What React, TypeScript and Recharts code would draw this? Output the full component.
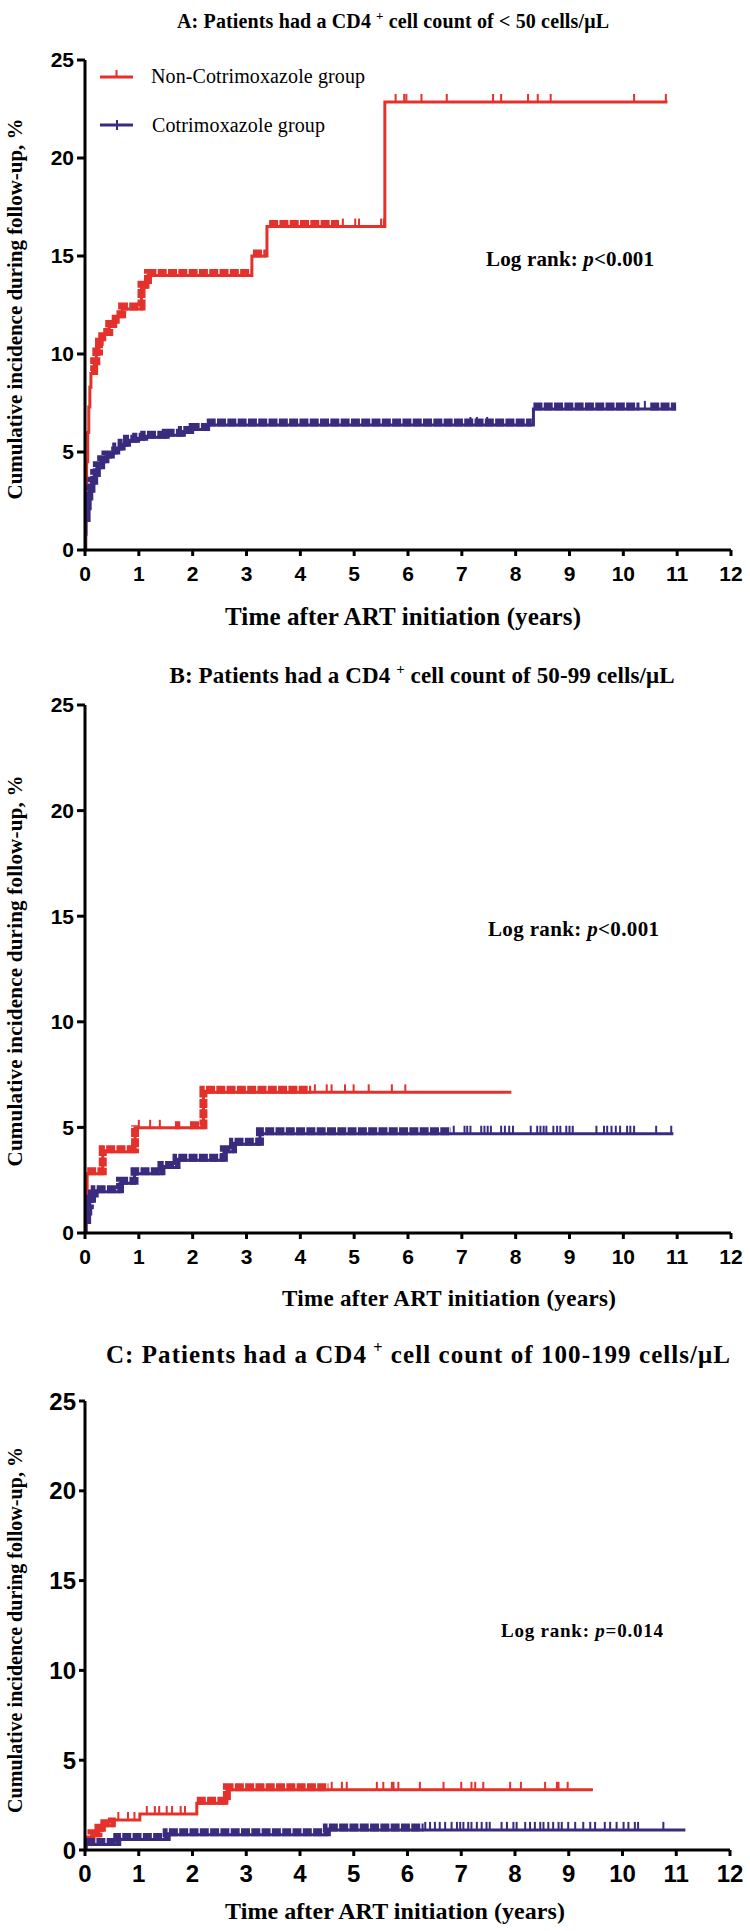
import React from 'react';
import { ComposedChart, Line, Scatter, XAxis, YAxis } from 'recharts';

type Pt = [number, number];
type Iv = [number, number];

const RED = '#E4312B';
const BLUE = '#3B2B7F';

const yearTicks = [0, 1, 2, 3, 4, 5, 6, 7, 8, 9, 10, 11, 12];
const pctTicks = [0, 5, 10, 15, 20, 25];

const seriesNames = ['Non-Cotrimoxazole group', 'Cotrimoxazole group'];
const yTitle = 'Cumulative incidence during follow-up, %';
const xTitle = 'Time after ART initiation (years)';

// ---------- Panel A: CD4 < 50 ----------
const aNonCurve: Pt[] = [
  [0, 0], [0.015, 2.5], [0.03, 4.5], [0.05, 6], [0.07, 7.3], [0.09, 8.3], [0.11, 9], [0.17, 9.5],
  [0.21, 10], [0.26, 10.5], [0.32, 11], [0.45, 11.4], [0.57, 11.9], [0.69, 12.3], [1.05, 13.4],
  [1.17, 14], [3.1, 15], [3.38, 16.5], [5.57, 22.86], [10.82, 22.86],
];
const aNonBands: Iv[] = [[0.11, 3.08], [3.12, 3.36], [3.42, 4.72]];
const aNonCens = [4.79, 5.02, 5.09, 5.5, 5.55, 5.77, 5.93, 5.97, 6.25, 6.72, 7.58, 7.73, 8.23, 8.41, 8.65, 10.2, 10.79];

const aCtxCurve: Pt[] = [
  [0, 0], [0.01, 0.8], [0.02, 1.5], [0.03, 2.1], [0.05, 2.6], [0.08, 3.0], [0.12, 3.4], [0.17, 3.8],
  [0.22, 4.2], [0.3, 4.5], [0.38, 4.75], [0.48, 4.95], [0.58, 5.15], [0.68, 5.35], [0.78, 5.55],
  [0.95, 5.65], [1.1, 5.75], [1.5, 5.85], [1.8, 6.0], [2.0, 6.15], [2.25, 6.38], [8.33, 7.2], [10.98, 7.2],
];
const aCtxBands: Iv[] = [[0.02, 8.3], [8.33, 10.3], [10.5, 10.98]];
const aCtxCens = [7.16, 7.28, 7.47, 10.4];

// ---------- Panel B: CD4 50-99 ----------
const bNonCurve: Pt[] = [
  [0, 0], [0.02, 1.5], [0.04, 2.8], [0.33, 3.85], [0.93, 4.98], [2.2, 6.66], [7.92, 6.66],
];
const bNonBands: Iv[] = [[0.04, 0.93], [1.67, 1.77], [1.95, 4.2]];
const bNonCens = [1.0, 1.21, 1.39, 4.27, 4.49, 4.58, 4.83, 4.99, 5.27, 5.7, 5.95];

const bCtxCurve: Pt[] = [
  [0, 0], [0.02, 0.5], [0.04, 0.9], [0.06, 1.2], [0.09, 1.5], [0.13, 1.75], [0.18, 1.95], [0.65, 2.35],
  [0.92, 2.8], [1.42, 3.1], [1.7, 3.45], [2.58, 3.85], [2.75, 4.2], [3.25, 4.7], [10.93, 4.7],
];
const bCtxBands: Iv[] = [[0.02, 6.8]];
const bCtxCens = [
  6.85, 7.05, 7.1, 7.16, 7.36, 7.42, 7.48, 7.54, 7.73, 7.8, 7.88, 7.95, 8.28, 8.4, 8.46, 8.52, 8.57,
  8.7, 8.77, 8.83, 8.94, 9.0, 9.06, 9.5, 9.64, 9.7, 9.78, 9.86, 9.94, 10.07, 10.13, 10.2, 10.61, 10.89,
];

// ---------- Panel C: CD4 100-199 ----------
const cNonCurve: Pt[] = [
  [0, 0], [0.02, 0.45], [0.12, 0.8], [0.25, 1.1], [0.36, 1.35], [0.5, 1.67], [1.02, 2.0],
  [2.08, 2.6], [2.64, 3.35], [9.45, 3.35],
];
const cNonBands: Iv[] = [[0.02, 0.5], [2.08, 4.53]];
const cNonCens = [
  0.62, 0.8, 0.92, 1.15, 1.3, 1.38, 1.52, 1.62, 1.78, 1.86, 4.59, 4.78, 4.87, 5.43, 5.55, 5.71, 5.74,
  5.83, 6.23, 6.67, 7.0, 7.19, 7.26, 7.41, 7.91, 8.11, 8.56, 8.78, 8.81, 8.98,
];

const cCtxCurve: Pt[] = [
  [0, 0], [0.02, 0.3], [0.6, 0.58], [1.52, 0.85], [4.5, 1.12], [11.17, 1.12],
];
const cCtxBands: Iv[] = [[0.02, 6.3]];
const cCtxCens = [
  6.33, 6.42, 6.51, 6.6, 6.7, 6.82, 6.92, 6.98, 7.04, 7.13, 7.19, 7.29, 7.38, 7.47, 7.53, 7.75, 7.85,
  7.97, 8.03, 8.19, 8.28, 8.37, 8.47, 8.53, 8.62, 8.71, 8.81, 8.87, 8.99, 9.12, 9.27, 9.4, 9.49, 9.67,
  9.77, 9.89, 10.02, 10.11, 10.23, 10.29, 10.76,
];

// ---------- helpers ----------
function stepAt(curve: Pt[], t: number): number {
  let v = curve[0][1];
  for (const [x, y] of curve) {
    if (x <= t) v = y;
    else break;
  }
  return v;
}

function bandData(curve: Pt[], iv: Iv) {
  const [a, b] = iv;
  const pts = [{ t: a, v: stepAt(curve, a) }];
  for (const [x, y] of curve) if (x > a && x < b) pts.push({ t: x, v: y });
  pts.push({ t: b, v: stepAt(curve, b) });
  return pts;
}

type Series = { curve: Pt[]; bands: Iv[]; cens: number[]; color: string };

const SANS = '"Liberation Sans", Arial, sans-serif';
const SERIF = '"Liberation Serif", "Times New Roman", serif';

function Panel(props: {
  top: number;
  height: number;
  margin: { top: number; right: number; bottom: number; left: number };
  series: Series[];
  tickFont: number;
  xTickGap: number;
  yTickSize: number;
}) {
  const { top, height, margin, series, tickFont, xTickGap, yTickSize } = props;
  const tickStyle = { fill: '#000', fontSize: tickFont, fontWeight: 700, fontFamily: SANS };
  const kids: React.ReactNode[] = [];
  series.forEach((s, i) => {
    s.bands.forEach((b, j) => {
      kids.push(
        <Line
          key={`band-${i}-${j}`}
          data={bandData(s.curve, b)}
          dataKey="v"
          type="stepAfter"
          stroke={s.color}
          strokeWidth={8}
          strokeDasharray="9 1.3"
          dot={false}
          activeDot={false}
          isAnimationActive={false}
          className="km-band"
          legendType="none"
        />
      );
    });
    kids.push(
      <Line
        key={`line-${i}`}
        data={s.curve.map(([t, v]) => ({ t, v }))}
        dataKey="v"
        type="stepAfter"
        stroke={s.color}
        strokeWidth={3}
        dot={false}
        activeDot={false}
        isAnimationActive={false}
        legendType="none"
      />
    );
    kids.push(
      <Scatter
        key={`cens-${i}`}
        data={s.cens.map((t) => ({ t, v: stepAt(s.curve, t) }))}
        dataKey="v"
        isAnimationActive={false}
        legendType="none"
        shape={(p: any) => (
          <rect x={p.cx - 1} y={p.cy - 8} width={2} height={8} fill={s.color} />
        )}
      />
    );
  });
  return (
    <div style={{ position: 'absolute', left: 0, top, width: 750, height }}>
      <ComposedChart width={750} height={height} margin={margin}>
        <XAxis
          type="number"
          dataKey="t"
          domain={[0, 12]}
          ticks={yearTicks}
          interval={0}
          allowDataOverflow
          height={30}
          tick={tickStyle}
          tickSize={6}
          tickMargin={xTickGap}
          axisLine={{ stroke: '#000', strokeWidth: 3 }}
          tickLine={{ stroke: '#000', strokeWidth: 3 }}
        />
        <YAxis
          type="number"
          dataKey="v"
          domain={[0, 25]}
          ticks={pctTicks}
          interval={0}
          allowDataOverflow
          width={60}
          tick={tickStyle}
          tickSize={yTickSize}
          tickMargin={3}
          axisLine={{ stroke: '#000', strokeWidth: 3 }}
          tickLine={{ stroke: '#000', strokeWidth: 3 }}
        />
        {kids}
      </ComposedChart>
    </div>
  );
}

function Title(props: { x: number; y: number; size: number; len: number; label: string; rest: string }) {
  const { x, y, size, len, label, rest } = props;
  return (
    <text x={x} y={y} textAnchor="middle" fontFamily={SERIF} fontWeight={700} fontSize={size} textLength={len} lengthAdjust="spacing">
      {label} Patients had a CD4
      <tspan dx={size * 0.25} dy={-size * 0.4} fontSize={size * 0.65}>+</tspan>
      <tspan dy={size * 0.4}>{` cell count of ${rest} cells/\u03bcL`}</tspan>
    </text>
  );
}

function LogRank(props: { x: number; y: number; size: number; len: number; p: string }) {
  const { x, y, size, len, p } = props;
  return (
    <text x={x} y={y} fontFamily={SERIF} fontWeight={700} fontSize={size} textLength={len} lengthAdjust="spacing">
      Log rank: <tspan fontStyle="italic">p</tspan>
      {p}
    </text>
  );
}

function YTitle(props: { cx: number; cy: number; size: number; len: number }) {
  const { cx, cy, size, len } = props;
  return (
    <text
      transform={`translate(${cx},${cy}) rotate(-90)`}
      textAnchor="middle"
      fontFamily={SERIF}
      fontWeight={700}
      fontSize={size}
      textLength={len}
      lengthAdjust="spacing"
    >
      {yTitle}
    </text>
  );
}

function XTitle(props: { cx: number; y: number; size: number; len: number }) {
  const { cx, y, size, len } = props;
  return (
    <text x={cx} y={y} textAnchor="middle" fontFamily={SERIF} fontWeight={700} fontSize={size} textLength={len} lengthAdjust="spacing">
      {xTitle}
    </text>
  );
}

export default function App() {
  const seriesA: Series[] = [
    { curve: aNonCurve, bands: aNonBands, cens: aNonCens, color: RED },
    { curve: aCtxCurve, bands: aCtxBands, cens: aCtxCens, color: BLUE },
  ];
  const seriesB: Series[] = [
    { curve: bNonCurve, bands: bNonBands, cens: bNonCens, color: RED },
    { curve: bCtxCurve, bands: bCtxBands, cens: bCtxCens, color: BLUE },
  ];
  const seriesC: Series[] = [
    { curve: cNonCurve, bands: cNonBands, cens: cNonCens, color: RED },
    { curve: cCtxCurve, bands: cCtxBands, cens: cCtxCens, color: BLUE },
  ];
  return (
    <div style={{ position: 'absolute', left: 0, top: 0, width: 750, height: 1931, background: '#fff', overflow: 'hidden' }}>
      <style>{`.km-band { transform: translateY(-2.5px); }`}</style>
      <Panel top={0} height={600} margin={{ top: 60, right: 19, bottom: 20, left: 25 }} series={seriesA} tickFont={21} xTickGap={10} yTickSize={8} />
      <Panel top={640} height={660} margin={{ top: 65, right: 19, bottom: 37, left: 25 }} series={seriesB} tickFont={21} xTickGap={10} yTickSize={8} />
      <Panel top={1370} height={561} margin={{ top: 31, right: 20, bottom: 51, left: 25 }} series={seriesC} tickFont={24} xTickGap={9} yTickSize={6} />
      <svg width={750} height={1931} style={{ position: 'absolute', left: 0, top: 0, pointerEvents: 'none' }}>
        <Title x={393} y={28} size={20} len={432} label="A:" rest="< 50" />
        <Title x={422} y={683} size={23} len={505} label="B:" rest="50-99" />
        <Title x={418} y={1363} size={25} len={624} label="C:" rest="100-199" />

        <YTitle cx={22} cy={309} size={21} len={381} />
        <YTitle cx={22} cy={971} size={21} len={391} />
        <YTitle cx={22} cy={1630} size={20} len={366} />

        <XTitle cx={403} y={625} size={25} len={356} />
        <XTitle cx={449} y={1306} size={23} len={334} />
        <XTitle cx={395} y={1919} size={24} len={340} />

        <LogRank x={486} y={266} size={21} len={168} p="<0.001" />
        <LogRank x={488} y={936} size={21} len={171} p="<0.001" />
        <LogRank x={501} y={1637} size={19} len={162} p="=0.014" />

        {/* legend */}
        <line x1={100} y1={77} x2={133} y2={77} stroke={RED} strokeWidth={3} />
        <rect x={115.5} y={70} width={2} height={7} fill={RED} />
        <text x={151} y={83} fontFamily={SERIF} fontSize={20} textLength={214} lengthAdjust="spacing">{seriesNames[0]}</text>
        <line x1={100} y1={125} x2={133} y2={125} stroke={BLUE} strokeWidth={3} />
        <rect x={116} y={120} width={2} height={10} fill={BLUE} />
        <text x={152} y={131.5} fontFamily={SERIF} fontSize={20} textLength={173} lengthAdjust="spacing">{seriesNames[1]}</text>
      </svg>
    </div>
  );
}
